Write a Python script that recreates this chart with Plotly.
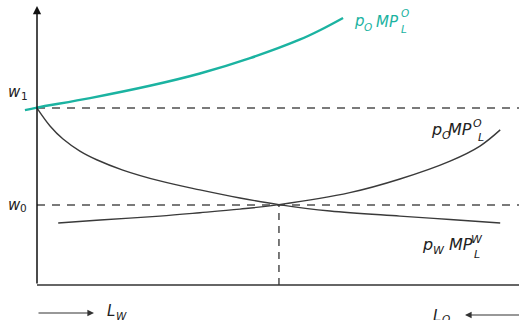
import plotly.graph_objects as go

# Wage levels and the employment split where the two curves cross
w1 = 63.4
w0 = 28.7
L_star = 50.2

# Value of marginal product in sector O after the price rise (teal)
vmp_o_new_x = [-2.5, 0.0, 11.0, 23.4, 33.8, 44.2, 54.6, 58.7, 63.5]
vmp_o_new_y = [62.7, 63.6, 67.0, 71.4, 75.8, 81.3, 88.0, 91.3, 95.7]

# Value of marginal product in sector W (falls as L_W grows)
vmp_w_x = [0.0, 2.7, 5.4, 8.9, 12.5, 17.8, 25.5, 33.8, 42.1, 50.2, 60.8, 75.3, 85.7, 96.1]
vmp_w_y = [63.4, 57.0, 52.3, 48.0, 44.8, 41.2, 37.3, 34.1, 31.2, 28.8, 26.5, 24.7, 23.5, 22.2]

# Value of marginal product in sector O (measured from the right)
vmp_o_x = [4.4, 13.1, 25.5, 33.8, 42.1, 50.2, 64.9, 75.3, 85.7, 91.9, 96.1]
vmp_o_y = [22.2, 23.3, 24.7, 25.9, 27.2, 28.8, 33.1, 38.0, 44.4, 49.8, 55.6]

TEAL = "#1bb3a1"
INK = "#222222"
FONT = "DejaVu Sans"

W, H = 519, 320
# pixel <-> data mapping of the full-bleed plot area
X0_PX, PX_PER_X = 37.0, 4.82
Y0_PX, PX_PER_Y = 285.0, 2.79


def to_x(px):
    return (px - X0_PX) / PX_PER_X


def to_y(py):
    return (Y0_PX - py) / PX_PER_Y


fig = go.Figure()

fig.add_trace(go.Scatter(x=vmp_w_x, y=vmp_w_y, mode="lines",
                         line=dict(color="#3a3a3a", width=1.4, shape="spline"),
                         hoverinfo="skip"))
fig.add_trace(go.Scatter(x=vmp_o_x, y=vmp_o_y, mode="lines",
                         line=dict(color="#3a3a3a", width=1.4, shape="spline"),
                         hoverinfo="skip"))
fig.add_trace(go.Scatter(x=vmp_o_new_x, y=vmp_o_new_y, mode="lines",
                         line=dict(color=TEAL, width=2.4, shape="spline"),
                         hoverinfo="skip"))

x_right = to_x(W + 2)

shapes = [
    # wage reference lines
    dict(type="line", x0=0, x1=x_right, y0=w1, y1=w1, layer="below",
         line=dict(color="#7a7a7a", width=2, dash="8px,7px")),
    dict(type="line", x0=0, x1=x_right, y0=w0, y1=w0, layer="below",
         line=dict(color="#7a7a7a", width=2, dash="8px,7px")),
    # equilibrium allocation
    dict(type="line", x0=L_star, x1=L_star, y0=0, y1=w0, layer="below",
         line=dict(color="#333333", width=1.3, dash="7px,6px")),
    # horizontal axis
    dict(type="line", x0=0, x1=x_right, y0=0, y1=0,
         line=dict(color="#333333", width=1.5)),
]

annotations = []

# vertical axis with arrow
annotations.append(dict(x=0, y=to_y(6), ax=0, ay=0, xref="x", yref="y",
                        axref="x", ayref="y", text="", showarrow=True,
                        arrowhead=2, arrowsize=1.1, arrowwidth=1.5,
                        arrowcolor="#111111"))
# direction arrows under the axis
annotations.append(dict(x=to_x(94), y=to_y(313), ax=0, ay=to_y(313),
                        xref="x", yref="y", axref="x", ayref="y", text="",
                        showarrow=True, arrowhead=2, arrowsize=1.1,
                        arrowwidth=1.2, arrowcolor="#333333"))
annotations.append(dict(x=to_x(465), y=to_y(315), ax=to_x(W + 2), ay=to_y(315),
                        xref="x", yref="y", axref="x", ayref="y", text="",
                        showarrow=True, arrowhead=2, arrowsize=1.1,
                        arrowwidth=1.2, arrowcolor="#333333"))


def piece(text, left_px, base_px, size, color=INK):
    """Place a text run by its left edge and baseline (pixels)."""
    annotations.append(dict(
        x=to_x(left_px), y=to_y(base_px - 0.35 * size), xref="x", yref="y",
        xanchor="left", yanchor="middle", showarrow=False, text=text,
        borderpad=0, font=dict(family=FONT, size=size, color=color)))


def piece_top(text, left_px, glyph_top_px, size, color=INK):
    """Place a text run by the top of its capitals (pixels)."""
    annotations.append(dict(
        x=to_x(left_px), y=to_y(glyph_top_px - 0.53 * size), xref="x", yref="y",
        xanchor="left", yanchor="top", showarrow=False, text=text,
        borderpad=0, font=dict(family=FONT, size=size, color=color)))


# w1, w0
piece("<i>w</i>", 7, 97, 15)
piece("1", 20, 100, 10.5)
piece("<i>w</i>", 7, 210, 15)
piece("0", 19, 212, 10.5)

# p_O MP_L^O (teal)
piece("<i>p</i>", 353, 26.5, 15, TEAL)
piece("<i>O</i>", 363, 31, 10.5, TEAL)
piece("<i>MP</i>", 375, 27, 15, TEAL)
piece("<i>O</i>", 400, 17, 10.5, TEAL)
piece("<i>L</i>", 400, 33, 10.5, TEAL)

# p_O MP_L^O
piece("<i>p</i>", 430, 135, 16)
piece("<i>O</i>", 441, 139, 11)
piece("<i>MP</i>", 447, 135, 16)
piece("<i>O</i>", 472, 127, 11)
piece("<i>L</i>", 477, 141, 11)

# p_W MP_L^W
piece("<i>p</i>", 421, 250, 16)
piece("<i>W</i>", 432, 254, 11)
piece("<i>MP</i>", 448, 250, 16)
piece("<i>W</i>", 470, 243, 11)
piece("<i>L</i>", 473, 258, 11)

# L_W, L_O
piece("<i>L</i>", 106, 316, 15)
piece("<i>W</i>", 115, 320, 10.5)
piece_top("<i>L</i>", 432, 314, 15)
piece_top("<i>O</i>", 441, 318, 10.5)

fig.update_layout(
    width=W, height=H, autosize=False,
    margin=dict(l=0, r=0, t=0, b=0, pad=0),
    paper_bgcolor="white", plot_bgcolor="white",
    showlegend=False,
    xaxis=dict(range=[to_x(0), to_x(W)], visible=False, fixedrange=True),
    yaxis=dict(range=[to_y(H), to_y(0)], visible=False, fixedrange=True),
    shapes=shapes, annotations=annotations,
)

fig.write_html("out.html", config=dict(displayModeBar=False))
